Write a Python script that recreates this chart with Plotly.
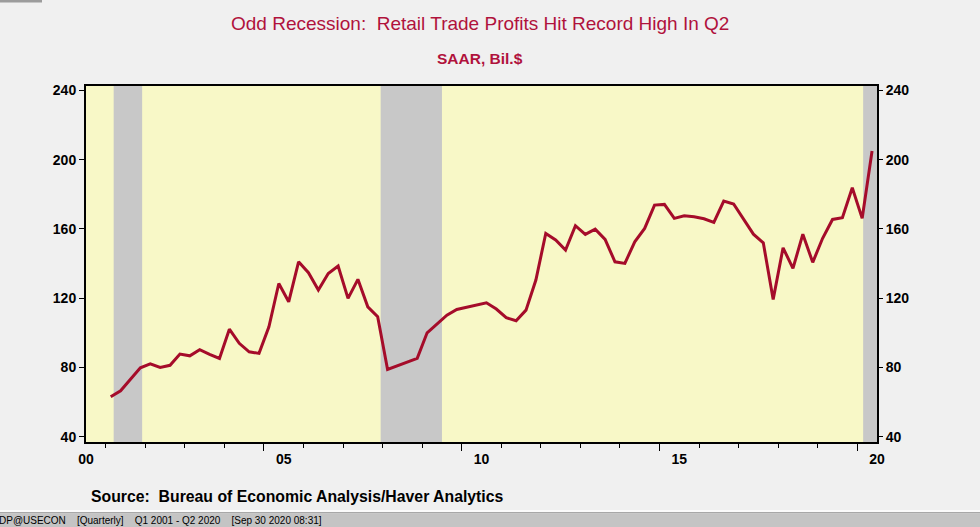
import plotly.graph_objects as go

# Retail trade profits, SAAR, Bil.$ (quarterly, Q1 2001 - Q2 2020)
YEARS = list(range(2001, 2021))
PROFITS = [
    63.0, 66.5, 73.2, 79.8,      # 2001
    82.1, 80.0, 81.2, 87.7,      # 2002
    86.7, 90.2, 87.5, 85.2,      # 2003
    102.1, 93.9, 89.0, 88.1,     # 2004
    103.5, 128.5, 117.9, 141.0,  # 2005
    134.7, 124.7, 134.3, 138.6,  # 2006
    119.9, 130.9, 115.0, 109.3,  # 2007
    78.8, 80.9, 83.0, 85.2,      # 2008
    100.0, 105.0, 110.2, 113.5,  # 2009
    114.7, 116.0, 117.3, 113.7,  # 2010
    108.7, 107.0, 113.1, 130.5,  # 2011
    157.4, 153.6, 147.8, 161.9,  # 2012
    156.9, 159.9, 154.0, 141.0,  # 2013
    140.1, 152.6, 160.3, 173.8,  # 2014
    174.2, 166.1, 167.6, 167.0,  # 2015
    165.9, 163.8, 176.1, 174.4,  # 2016
    165.7, 157.0, 152.0, 119.3,  # 2017
    149.1, 137.2, 157.0, 140.7,  # 2018
    154.6, 165.5, 166.5, 183.8,  # 2019
    166.1, 205.0,                # 2020
]
QUARTERS = [f"{y}Q{q}" for y in YEARS for q in range(1, 5)][: len(PROFITS)]

# NBER recessions (decimal years)
RECESSIONS = [(2001.2, 2001.92), (2007.95, 2009.5), (2020.15, 2020.5)]

YTICKS = [40, 80, 120, 160, 200, 240]
XLABELS = ["00", "05", "10", "15", "20"]
XLABEL_YEARS = [2000, 2005, 2010, 2015, 2020]


def quarter_mid(q):
    # plot each quarter at its midpoint
    return int(q[:4]) + (int(q[-1]) - 1) * 0.25 + 0.125


x = [quarter_mid(q) for q in QUARTERS]

W, H = 980, 527
L, R, T, B = 86, 877, 86, 442
XR = [2000.5, 2020.5]
YR = [36.9, 242.6]


def px(xp):
    return (xp - L) / (R - L)


def py(yp):
    return (B - yp) / (B - T)


FONT = "Liberation Sans, Arial, sans-serif"
RED = "#a50c2a"

fig = go.Figure()
fig.add_trace(
    go.Scatter(
        x=x, y=PROFITS, mode="lines",
        line=dict(color=RED, width=3),
        hoverinfo="skip", showlegend=False,
    )
)
# invisible trace to bring up the secondary axes
fig.add_trace(go.Scatter(x=XR, y=YR, xaxis="x2", yaxis="y2", mode="none",
                         showlegend=False, hoverinfo="skip"))

shapes = []
for x0, x1 in RECESSIONS:
    shapes.append(dict(type="rect", xref="x", yref="paper", x0=x0, x1=x1,
                       y0=0, y1=1, fillcolor="#c8c8c8", line_width=0,
                       layer="below"))
# window chrome: status bar and separators
shapes += [
    dict(type="rect", xref="paper", yref="paper", x0=px(0), x1=px(W),
         y0=py(510), y1=py(512), fillcolor="#fbfbfb", line_width=0),
    dict(type="rect", xref="paper", yref="paper", x0=px(0), x1=px(W),
         y0=py(512), y1=py(513.5), fillcolor="#a8a8a8", line_width=0),
    dict(type="rect", xref="paper", yref="paper", x0=px(0), x1=px(W),
         y0=py(513.5), y1=py(H), fillcolor="#c4c4c4", line_width=0),
    dict(type="rect", xref="paper", yref="paper", x0=px(0), x1=px(42),
         y0=py(0), y1=py(2.5), fillcolor="#9c9c9c", line_width=0),
]

tickfont = dict(family=FONT, size=14, color="black", weight="bold")

fig.update_layout(
    width=W, height=H,
    margin=dict(l=L, r=W - R, t=T, b=H - B),
    paper_bgcolor="#f0f0f0",
    plot_bgcolor="#f8f8c7",
    shapes=shapes,
    xaxis=dict(
        range=XR, showgrid=False, zeroline=False,
        showline=True, linecolor="black", linewidth=2, mirror=True,
        tickmode="array", tickvals=[2005, 2010, 2015, 2020],
        ticks="outside", ticklen=7, tickcolor="black", tickwidth=1,
        minor=dict(tickmode="array", tickvals=YEARS, ticks="outside",
                   ticklen=4, tickcolor="black", tickwidth=1),
        showticklabels=False,
    ),
    xaxis2=dict(
        range=XR, overlaying="x", anchor="y", side="bottom",
        showgrid=False, zeroline=False, showline=False,
        tickmode="array", tickvals=[v + 0.5 for v in XLABEL_YEARS],
        ticktext=XLABELS, ticks="", tickfont=tickfont,
        ticklabelstandoff=7,
    ),
    yaxis=dict(
        range=YR, showgrid=False, zeroline=False,
        showline=True, linecolor="black", linewidth=2, mirror=True,
        tickmode="array", tickvals=YTICKS, ticks="outside", ticklen=5,
        tickcolor="black", tickfont=tickfont,
    ),
    yaxis2=dict(
        range=YR, overlaying="y", side="right", anchor="x",
        showgrid=False, zeroline=False, showline=False,
        tickmode="array", tickvals=YTICKS, ticks="outside", ticklen=5,
        tickcolor="black", tickfont=tickfont,
    ),
    annotations=[
        dict(text="Odd Recession:\u00a0 Retail Trade Profits Hit Record High In Q2",
             xref="paper", yref="paper", x=px(480), y=py(23),
             showarrow=False, xanchor="center", yanchor="middle",
             font=dict(family=FONT, size=19, color="#b0123c")),
        dict(text="SAAR, Bil.$",
             xref="paper", yref="paper", x=px(480), y=py(58),
             showarrow=False, xanchor="center", yanchor="middle",
             font=dict(family=FONT, size=15.5, color="#b0123c", weight="bold")),
        dict(text="Source:\u00a0 Bureau of Economic Analysis/Haver Analytics",
             xref="paper", yref="paper", x=px(89), y=py(496),
             showarrow=False, xanchor="left", yanchor="middle",
             font=dict(family=FONT, size=15.8, color="black", weight="bold")),
        dict(text="DP@USECON\u00a0\u00a0\u00a0 [Quarterly]\u00a0\u00a0\u00a0 Q1 2001 - Q2 2020\u00a0\u00a0\u00a0 [Sep 30 2020 08:31]",
             xref="paper", yref="paper", x=px(-3), y=py(520.5),
             showarrow=False, xanchor="left", yanchor="middle",
             font=dict(family=FONT, size=10, color="black")),
    ],
)

fig.write_html(
    "out.html",
    config={"displayModeBar": False},
    post_script="document.body.style.margin='0px';",
)
